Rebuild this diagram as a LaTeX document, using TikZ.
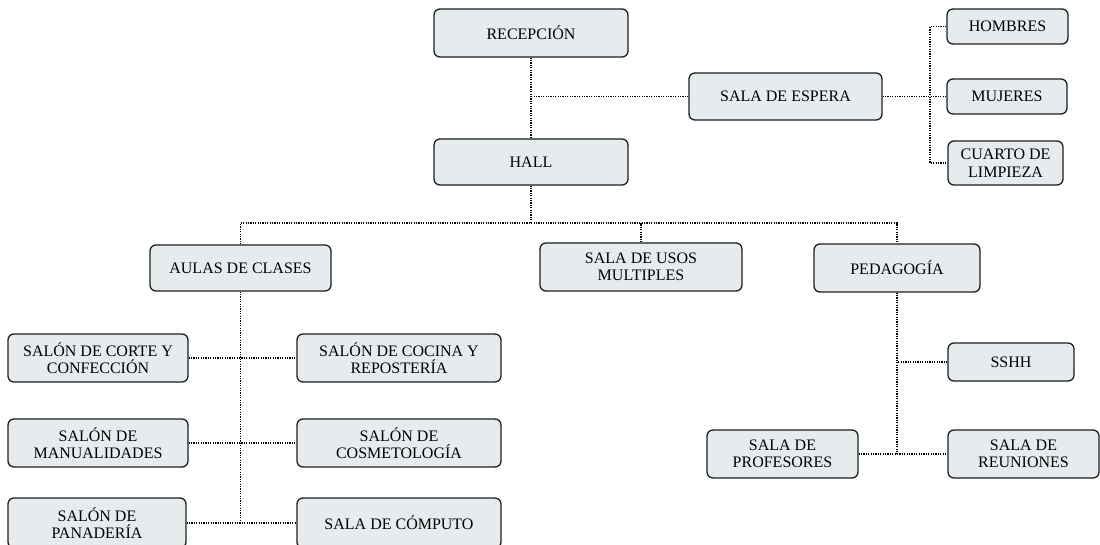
\documentclass[tikz,border=0pt]{standalone}
\usepackage{fontspec}
\setmainfont{Liberation Serif}
\definecolor{boxfill}{RGB}{230,236,238}
\definecolor{boxline}{RGB}{30,30,30}
\tikzset{
  box/.style={draw=boxline, fill=boxfill, line width=1.3pt, rounded corners=6pt,
    align=center, inner sep=0pt, text=black, font=\fontsize{16}{17.5}\selectfont},
  conn/.style={draw=black, line width=1.2pt, dash pattern=on 1.2pt off 1.2pt}
}
\newcommand{\bx}[7]{% name, x1,y1,x2,y2, text
  \node[box, minimum width={#4-#2}, minimum height={#5-#3}] (#1) at ({(#2+#4)/2},{(#3+#5)/2}) {#6#7};}
\begin{document}
\begin{tikzpicture}[x=1pt,y=-1pt]
\useasboundingbox (0,0) rectangle (1100,545);
\bx{rec}{434}{9}{628}{57}{RECEPCIÓN}{}
\bx{hall}{434}{139}{628}{185}{HALL}{}
\bx{espera}{689}{73}{882}{120}{SALA DE ESPERA}{}
\bx{hom}{947}{9}{1068}{44}{HOMBRES}{}
\bx{muj}{947}{79}{1067}{114}{MUJERES}{}
\bx{cuarto}{948}{141}{1063}{185}{CUARTO DE\\LIMPIEZA}{}
\bx{aulas}{150}{245}{331}{291}{AULAS DE CLASES}{}
\bx{usos}{540}{243}{742}{291}{SALA DE USOS\\MULTIPLES}{}
\bx{ped}{814}{244}{980}{292}{PEDAGOGÍA}{}
\bx{sshh}{948}{343}{1074}{381}{SSHH}{}
\bx{prof}{707}{430}{858}{478}{SALA DE\\PROFESORES}{}
\bx{reun}{948}{430}{1099}{478}{SALA DE\\REUNIONES}{}
\bx{corte}{8}{334}{188}{382}{SALÓN DE CORTE Y\\CONFECCIÓN}{}
\bx{cocina}{297}{334}{501}{382}{SALÓN DE COCINA Y\\REPOSTERÍA}{}
\bx{manual}{8}{419}{188}{467}{SALÓN DE\\MANUALIDADES}{}
\bx{cosme}{297}{419}{501}{467}{SALÓN DE\\COSMETOLOGÍA}{}
\bx{panad}{8}{498}{186}{548}{SALÓN DE\\PANADERÍA}{}
\bx{computo}{297}{498}{501}{548}{SALA DE CÓMPUTO}{}
% top
\draw[conn] (rec.south) -- (hall.north);
\draw[conn] (espera.west) -- (espera.west -| rec.south);
\coordinate (sb) at (930,96.5);
\draw[conn] (espera.east) -- (muj.west);
\draw[conn] (hom.west) -| (sb) |- (cuarto.west);
% bus
\coordinate (bus) at (531,223);
\draw[conn] (hall.south) -- (bus);
\draw[conn] (aulas.north) |- (bus) -| (ped.north);
\draw[conn] (usos.north) -- (usos.north |- bus);
% aulas
\draw[conn] (aulas.south) -- (aulas.south |- computo.west);
\draw[conn] (corte.east) -- (cocina.west);
\draw[conn] (manual.east) -- (cosme.west);
\draw[conn] (panad.east |- computo.west) -- (computo.west);
% pedagogia
\draw[conn] (ped.south) -- (ped.south |- prof.east);
\draw[conn] (prof.east) -- (reun.west);
\draw[conn] (sshh.west) -- (sshh.west -| ped.south);
\end{tikzpicture}
\end{document}
